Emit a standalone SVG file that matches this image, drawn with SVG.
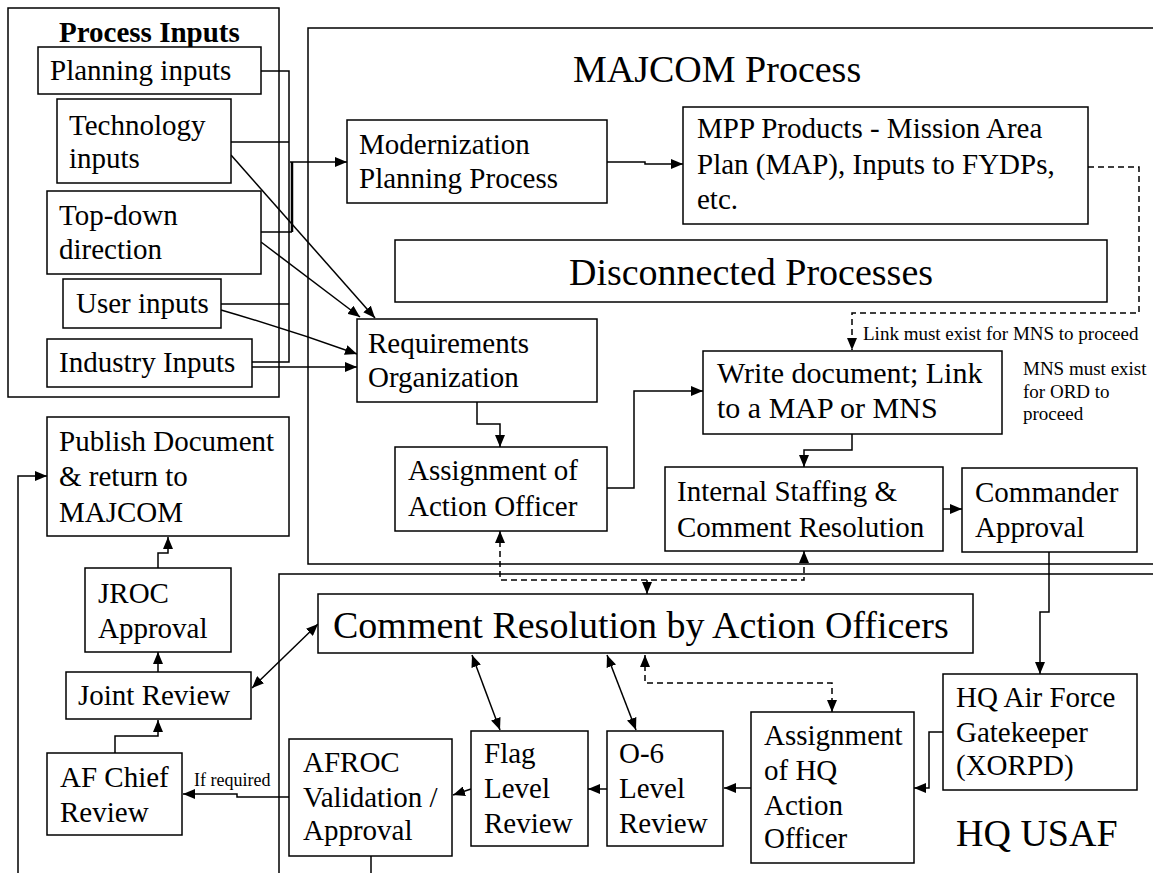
<svg xmlns="http://www.w3.org/2000/svg" width="1153" height="873" viewBox="0 0 1153 873">
<defs>
<marker id="ah" viewBox="0 0 12 10" refX="12" refY="5" markerWidth="12" markerHeight="10" markerUnits="userSpaceOnUse" orient="auto-start-reverse"><path d="M0,0 L12,5 L0,10 z" fill="#000"/></marker>
<style>
.box{fill:#fff;stroke:#000;stroke-width:1.5}
.frame{fill:none;stroke:#000;stroke-width:1.5}
.t{font-family:"Liberation Serif","Times New Roman",serif;font-size:29px;fill:#000}
.big{font-size:38px}
.sm{font-size:19px}
.xs{font-size:18px}
.b{font-weight:bold}
.c{fill:none;stroke:#000;stroke-width:1.5}
.a{marker-end:url(#ah)}
.bi{marker-start:url(#ah);marker-end:url(#ah)}
.d{stroke-dasharray:6 4}
</style>
</defs>
<rect width="1153" height="873" fill="#fff"/>

<g id="process-inputs">
<rect class="frame" x="8" y="8" width="271" height="389"/>
<text class="t b" x="59" y="42">Process Inputs</text>
</g>
<g id="majcom">
<path class="frame" d="M1160,28 H308 V564 H1160"/>
<text class="t big" x="573" y="82">MAJCOM Process</text>
</g>
<g id="hq-usaf">
<path class="frame" d="M1160,574 H279 V880"/>
<text class="t big" x="956" y="846">HQ USAF</text>
</g>

<g id="connectors">
<path class="c" d="M261,71 H289 V362 H252"/>
<path class="c" d="M231,142 H289"/>
<path class="c" d="M261,232 H292"/>
<path class="c" d="M221,304 H289"/>
<path class="c" style="stroke-width:2.5" d="M292,162 V232"/>
<path class="c a" d="M290,162 H347"/>
<path class="c a" d="M231,155 L375,318"/>
<path class="c a" d="M261,242 L360,317"/>
<path class="c a" d="M221,310 Q290,330 357,354"/>
<path class="c a" d="M252,367 H357"/>
<path class="c a" d="M607,162 H645 V164 H683"/>
<path class="c d a" d="M1088,167 H1139 V313 H852 V350"/>
<path class="c a" d="M477,402 V424 H500 V447"/>
<path class="c a" d="M607,488 H634 V391 H703"/>
<path class="c a" d="M852,434 V450 H804 V467"/>
<path class="c a" d="M943,509 H962"/>
<path class="c d bi" d="M500,531 V580 H804 V551"/>
<path class="c d a" d="M647,580 V594"/>
<path class="c a" d="M1049,552 V612 H1040 V674"/>
<path class="c a" d="M943,732 H929 V788 H914"/>
<path class="c d bi" d="M645,655 V683 H832 V712"/>
<path class="c a" d="M751,788 H724"/>
<path class="c a" d="M607,789 H588"/>
<path class="c a" d="M471,789 L453,795"/>
<path class="c bi" d="M472,655 L500,730"/>
<path class="c bi" d="M607,655 L636,730"/>
<path class="c bi" d="M252,688 L318,624"/>
<path class="c a" d="M289,797 H237 V794 H183"/>
<text class="t xs" x="194" y="786">If required</text>
<path class="c" d="M371,856 V880"/>
<path class="c a" d="M115,753 V736 H158 V720"/>
<path class="c a" d="M158,672 V652"/>
<path class="c a" d="M158,568 V553 H168 V537"/>
<path class="c a" d="M18,880 V476 H47"/>
<text class="t sm" x="863" y="340">Link must exist for MNS to proceed</text>
</g>

<g id="planning-inputs"><rect class="box" x="38" y="47" width="223" height="47"/><text class="t" x="50" y="80">Planning inputs</text></g>
<g id="technology-inputs"><rect class="box" x="57" y="99" width="174" height="84"/><text class="t" x="69" y="135">Technology</text><text class="t" x="69" y="168">inputs</text></g>
<g id="top-down-direction"><rect class="box" x="47" y="191" width="214" height="83"/><text class="t" x="59" y="225">Top-down</text><text class="t" x="59" y="259">direction</text></g>
<g id="user-inputs"><rect class="box" x="63" y="279" width="158" height="49"/><text class="t" x="76" y="313">User inputs</text></g>
<g id="industry-inputs"><rect class="box" x="47" y="339" width="205" height="48"/><text class="t" x="59" y="372">Industry Inputs</text></g>

<g id="modernization"><rect class="box" x="347" y="120" width="260" height="83"/><text class="t" x="359" y="154">Modernization</text><text class="t" x="359" y="188">Planning Process</text></g>
<g id="mpp-products"><rect class="box" x="683" y="107" width="405" height="117"/><text class="t" x="697" y="138">MPP Products - Mission Area</text><text class="t" x="697" y="174">Plan (MAP), Inputs to FYDPs,</text><text class="t" x="697" y="209">etc.</text></g>
<g id="disconnected"><rect class="box" x="395" y="240" width="712" height="62"/><text class="t big" x="751" y="285" text-anchor="middle">Disconnected Processes</text></g>
<g id="requirements"><rect class="box" x="357" y="319" width="240" height="83"/><text class="t" x="368" y="353">Requirements</text><text class="t" x="368" y="387">Organization</text></g>
<g id="write-document"><rect class="box" x="703" y="351" width="299" height="83"/><text class="t" style="font-size:30px" x="717" y="383">Write document; Link</text><text class="t" style="font-size:30px" x="717" y="418">to a MAP or MNS</text></g>
<g id="mns-note"><text class="t sm" x="1023" y="375">MNS must exist</text><text class="t sm" x="1023" y="398">for ORD to</text><text class="t sm" x="1023" y="420">proceed</text></g>
<g id="assignment-ao"><rect class="box" x="395" y="447" width="212" height="84"/><text class="t" x="408" y="480">Assignment of</text><text class="t" x="408" y="516">Action Officer</text></g>
<g id="internal-staffing"><rect class="box" x="665" y="467" width="278" height="84"/><text class="t" x="677" y="501">Internal Staffing &amp;</text><text class="t" x="677" y="537">Comment Resolution</text></g>
<g id="commander-approval"><rect class="box" x="962" y="468" width="175" height="84"/><text class="t" x="975" y="502">Commander</text><text class="t" x="975" y="537">Approval</text></g>

<g id="publish-document"><rect class="box" x="47" y="417" width="242" height="119"/><text class="t" x="59" y="451">Publish Document</text><text class="t" x="59" y="486">&amp; return to</text><text class="t" x="59" y="522">MAJCOM</text></g>
<g id="jroc-approval"><rect class="box" x="85" y="568" width="146" height="84"/><text class="t" x="98" y="603">JROC</text><text class="t" x="98" y="638">Approval</text></g>
<g id="joint-review"><rect class="box" x="66" y="672" width="185" height="47"/><text class="t" x="78" y="705">Joint Review</text></g>
<g id="af-chief-review"><rect class="box" x="47" y="753" width="135" height="82"/><text class="t" x="60" y="787">AF Chief</text><text class="t" x="60" y="822">Review</text></g>

<g id="comment-resolution"><rect class="box" x="318" y="594" width="655" height="59"/><text class="t big" x="333" y="638">Comment Resolution by Action Officers</text></g>
<g id="hq-gatekeeper"><rect class="box" x="943" y="674" width="194" height="116"/><text class="t" x="956" y="707">HQ Air Force</text><text class="t" x="956" y="742">Gatekeeper</text><text class="t" x="956" y="775">(XORPD)</text></g>
<g id="assignment-hq-ao"><rect class="box" x="751" y="712" width="163" height="151"/><text class="t" x="764" y="745">Assignment</text><text class="t" x="764" y="780">of HQ</text><text class="t" x="764" y="815">Action</text><text class="t" x="764" y="848">Officer</text></g>
<g id="o6-review"><rect class="box" x="607" y="731" width="116" height="115"/><text class="t" x="619" y="763">O-6</text><text class="t" x="619" y="798">Level</text><text class="t" x="619" y="833">Review</text></g>
<g id="flag-review"><rect class="box" x="471" y="731" width="117" height="115"/><text class="t" x="484" y="763">Flag</text><text class="t" x="484" y="798">Level</text><text class="t" x="484" y="833">Review</text></g>
<g id="afroc"><rect class="box" x="289" y="739" width="163" height="117"/><text class="t" x="303" y="772">AFROC</text><text class="t" x="303" y="807">Validation /</text><text class="t" x="303" y="840">Approval</text></g>
</svg>
